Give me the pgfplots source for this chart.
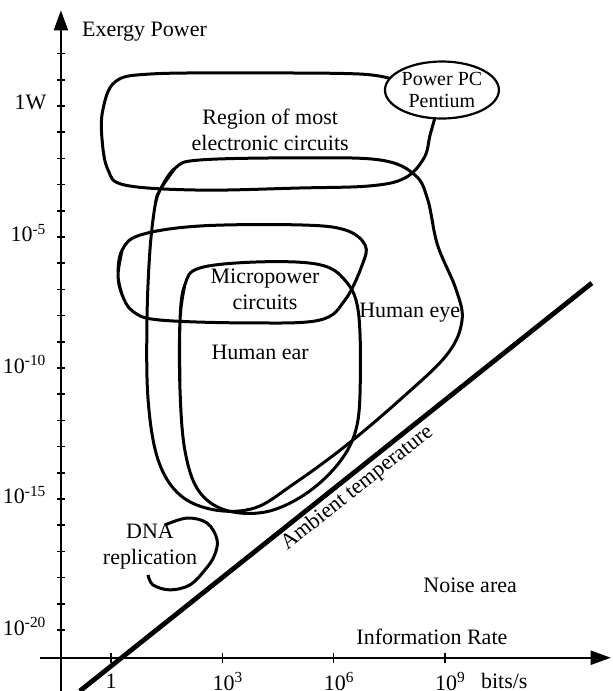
\documentclass[border=0pt]{standalone}
\usepackage{pgfplots}
\pgfplotsset{compat=1.18}
\usepackage{fontspec}
\setmainfont{Liberation Serif}
\usetikzlibrary{arrows.meta,shapes.geometric}
\begin{document}
\begin{tikzpicture}
\begin{axis}[
  name=ax,
  scale only axis, width=306pt, height=345.5pt,
  xmin=-2.992, xmax=13.504, ymin=-22.33, ymax=4.046,
  hide axis, clip=false,
  every axis plot/.append style={black},
]
% axes
\addplot[line width=1pt, -{Triangle[length=10pt,width=7pt]}] coordinates {(-1.91,-21.06) (13.47,-21.06)};
\addplot[line width=1pt, -{Triangle[length=10pt,width=7pt]}] coordinates {(-1.35,-22.33) (-1.35,3.65)};
% y ticks
\addplot[only marks, mark=-, mark size=1.8pt, mark options={line width=0.8pt}] coordinates {
(-1.35,3) (-1.35,2) (-1.35,1) (-1.35,0) (-1.35,-1) (-1.35,-2) (-1.35,-3) (-1.35,-4) (-1.35,-5)
(-1.35,-6) (-1.35,-7) (-1.35,-8) (-1.35,-9) (-1.35,-10) (-1.35,-11) (-1.35,-12) (-1.35,-13)
(-1.35,-14) (-1.35,-15) (-1.35,-16) (-1.35,-17) (-1.35,-18) (-1.35,-19) (-1.35,-20)};
% x ticks
\addplot[only marks, mark=|, mark size=2.6pt, mark options={line width=0.8pt}] coordinates {
(0,-21.06) (3,-21.06) (6,-21.06) (9,-21.06)};
% ambient temperature line
\addplot[line width=2.4pt] coordinates {(-0.84,-22.33) (12.96,-6.76)};
% electronic circuits region
\addplot[line width=1.5pt, smooth, tension=0.6] coordinates {
(7.65,0.99) (6.71,1.22) (3.75,1.26) (1.05,1.22) (0.11,0.92) (-0.22,-0.15) (-0.24,-1.30)
(-0.08,-2.44) (0.38,-3.02) (2.40,-3.21) (5.09,-3.13) (6.98,-3.05) (7.92,-2.75) (8.44,-1.98)
(8.60,-1.11) (8.73,-0.46)};
% human eye
\addplot[line width=1.5pt, smooth, tension=0.6] coordinates {
(1.19,-3.78) (1.32,-3.21) (1.73,-2.37) (2.40,-2.06) (5.09,-1.98) (7.25,-2.06) (8.19,-2.63)
(8.54,-3.59) (8.80,-5.30) (9.30,-7.00) (9.46,-8.20) (9.05,-9.50) (7.80,-11.20) (6.30,-13.00)
(4.90,-14.45) (3.88,-15.34) (2.80,-15.42) (1.86,-14.85) (1.27,-13.51) (1.00,-11.22) (0.97,-8.17)
(1.05,-5.50) (1.19,-3.78) (1.32,-3.21) (1.73,-2.37)};
% human ear
\addplot[line width=1.5pt, smooth, tension=0.6] coordinates {
(1.86,-10.84) (1.86,-8.17) (1.99,-6.83) (2.40,-6.18) (4.02,-5.95) (5.60,-6.05) (6.30,-6.64)
(6.66,-7.79) (6.72,-10.46) (6.60,-12.37) (6.10,-13.70) (5.20,-14.85) (4.15,-15.50) (3.07,-15.42)
(2.35,-14.66) (1.99,-13.13) (1.86,-10.84) (1.86,-8.17) (1.99,-6.83)};
% micropower circuits
\addplot[line width=1.5pt, smooth, tension=0.6] coordinates {
(0.30,-7.21) (0.19,-6.45) (0.30,-5.50) (0.80,-4.92) (2.40,-4.58) (5.09,-4.54) (6.31,-4.73)
(6.85,-5.31) (6.77,-6.07) (6.31,-7.40) (5.63,-8.17) (3.75,-8.28) (1.32,-8.17) (0.60,-7.85)
(0.30,-7.21) (0.19,-6.45) (0.30,-5.50)};
% DNA replication
\addplot[line width=1.5pt, smooth, tension=0.6] coordinates {
(1.46,-15.99) (2.05,-15.73) (2.59,-15.92) (2.86,-16.56) (2.78,-17.18) (2.53,-17.71)
(2.13,-18.28) (1.59,-18.47) (1.13,-18.28) (1.00,-17.90)};
% labels
\node[draw, ellipse, line width=1.1pt, fill=white, minimum width=48pt, minimum height=28.5pt,
  inner sep=0pt, align=center, font=\fontsize{10}{11}\selectfont] at (axis cs:8.92,0.61) {Power PC\\Pentium};
\begin{scope}[font=\fontsize{11}{13}\selectfont]
\node[anchor=west] at (axis cs:-0.97,2.82) {Exergy Power};
\node[anchor=east] at (axis cs:-1.55,0.12) {1W};
\node[anchor=east] at (axis cs:-1.55,-4.85) {10\textsuperscript{-5}};
\node[anchor=east] at (axis cs:-1.55,-9.85) {10\textsuperscript{-10}};
\node[anchor=east] at (axis cs:-1.55,-14.85) {10\textsuperscript{-15}};
\node[anchor=east] at (axis cs:-1.55,-19.85) {10\textsuperscript{-20}};
\node at (axis cs:0,-21.95) {1};
\node at (axis cs:3.15,-21.95) {10\textsuperscript{3}};
\node at (axis cs:6.15,-21.95) {10\textsuperscript{6}};
\node at (axis cs:9.15,-21.95) {10\textsuperscript{9}};
\node at (axis cs:10.6,-21.95) {bits/s};
\node at (axis cs:8.65,-20.27) {Information Rate};
\node[align=center] at (axis cs:4.29,-0.92) {Region of most\\electronic circuits};
\node[align=center] at (axis cs:4.15,-7.0) {Micropower\\circuits};
\node at (axis cs:4.02,-9.39) {Human ear};
\node at (axis cs:8.05,-7.90) {Human eye};
\node[align=center] at (axis cs:1.05,-16.83) {DNA\\replication};
\node at (axis cs:9.68,-18.28) {Noise area};
\node[rotate=38.5, anchor=north, inner sep=2pt] at (axis cs:6.4,-14.16) {Ambient temperature};
\end{scope}
\end{axis}
\pgfresetboundingbox
\path (ax.south west) rectangle (ax.north east);
\end{tikzpicture}
\end{document}
